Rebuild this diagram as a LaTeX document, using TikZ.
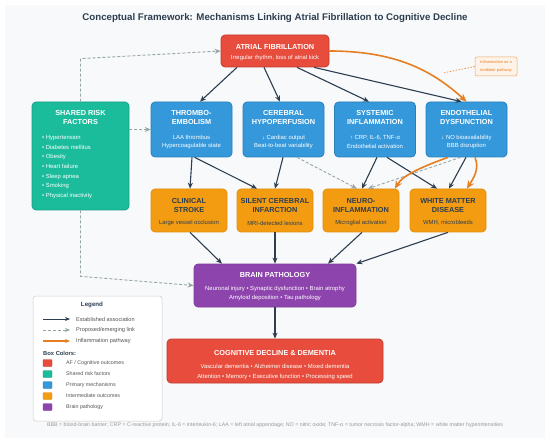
\documentclass[tikz,border=0pt]{standalone}
\usepackage{fontspec}
\setmainfont{Liberation Sans}
\usetikzlibrary{arrows.meta}
\definecolor{navy}{HTML}{2C3E50}
\definecolor{arrgray}{HTML}{95A5A6}
\definecolor{orng}{HTML}{E67E22}
\definecolor{afred}{HTML}{E74C3C}
\definecolor{afredd}{HTML}{C0392B}
\definecolor{mblue}{HTML}{3498DB}
\definecolor{mblued}{HTML}{2980B9}
\definecolor{rgreen}{HTML}{1ABC9C}
\definecolor{rgreend}{HTML}{16A085}
\definecolor{morange}{HTML}{F39C12}
\definecolor{moranged}{HTML}{E08E0B}
\definecolor{mpurple}{HTML}{8E44AD}
\definecolor{mpurpled}{HTML}{7D3C98}
\definecolor{bgc}{HTML}{F8F9FA}
\definecolor{lgray}{HTML}{CCCCCC}
\definecolor{ltext}{HTML}{555555}
\definecolor{fgray}{HTML}{999999}
\definecolor{callfill}{HTML}{FDF3E8}
\definecolor{callborder}{HTML}{F0A860}
\begin{document}
\begin{tikzpicture}[x=1pt,y=-1pt,
  box/.style={draw, rounded corners=4pt, line width=0.7pt, inner sep=0pt},
  ttl/.style={font=\bfseries\fontsize{7.3}{9}\selectfont, align=center, inner sep=0pt},
  sub/.style={font=\fontsize{5.9}{8.5}\selectfont, align=center, inner sep=0pt},
  subb/.style={font=\fontsize{5.9}{9.5}\selectfont, align=center, inner sep=0pt},
  est/.style={navy, line width=1.1pt, -{Stealth[length=6pt,width=5pt]}},
  prop/.style={arrgray, line width=0.9pt, dash pattern=on 3pt off 2pt, -{Stealth[length=6pt,width=5pt]}},
  infl/.style={orng, line width=1.6pt, -{Stealth[length=8pt,width=7pt]}},
  legtxt/.style={font=\fontsize{5.6}{6}\selectfont, text=ltext, anchor=west, inner sep=0pt},
  swtxt/.style={font=\fontsize{5.3}{6}\selectfont, text=ltext, anchor=west, inner sep=0pt},
  swatch/.style={minimum width=9pt, minimum height=7pt, inner sep=0pt, rounded corners=1pt, line width=0.4pt}
]
\useasboundingbox (0,0) rectangle (550,444);
\fill[white] (0,0) rectangle (550,444);
\fill[bgc] (5,5) rectangle (545,438);

% title
\node[font=\bfseries\fontsize{9.7}{11}\selectfont, text=navy, inner sep=0pt] (title) at (275,18) {Conceptual Framework: Mechanisms Linking Atrial Fibrillation to Cognitive Decline};

% AF
\node[box, fill=afred, draw=afredd, minimum width=108pt, minimum height=32pt] (af) at (275,51) {};
\node[ttl, text=white] (afT) at (275,46.5) {ATRIAL FIBRILLATION};
\node[sub, text=white] (afS) at (275,57.5) {Irregular rhythm, loss of atrial kick};

% callout
\node[draw=callborder, fill=callfill, rounded corners=2pt, minimum width=42pt, minimum height=19pt, line width=0.5pt, align=center, font=\fontsize{4}{7.5}\selectfont, text=orng, inner sep=0pt] (call) at (496,66.5) {Inflammation as a\\mediator pathway};
\coordinate (callend) at (443,73);
\draw[orng!80, line width=0.8pt, dash pattern=on 1.5pt off 1.5pt] (call.west) -- (callend);

% primary mechanisms
\node[box, fill=mblue, draw=mblued, minimum width=81pt, minimum height=55pt] (thr) at (191.5,129.5) {};
\node[ttl, text=white] (thrT) at (191.5,117.5) {THROMBO-\\EMBOLISM};
\node[sub, text=white] (thrS) at (191.5,142) {LAA thrombus\\Hypercoagulable state};

\node[box, fill=mblue, draw=mblued, minimum width=81pt, minimum height=55pt] (hyp) at (283.5,129.5) {};
\node[ttl, text=white] (hypT) at (283.5,117.5) {CEREBRAL\\HYPOPERFUSION};
\node[sub, text=white] (hypS) at (283.5,142) {↓ Cardiac output\\Beat-to-beat variability};

\node[box, fill=mblue, draw=mblued, minimum width=81pt, minimum height=55pt] (inf) at (375,129.5) {};
\node[ttl, text=white] (infT) at (375,117.5) {SYSTEMIC\\INFLAMMATION};
\node[sub, text=white] (infS) at (375,142) {↑ CRP, IL-6, TNF-α\\Endothelial activation};

\node[box, fill=mblue, draw=mblued, minimum width=81pt, minimum height=55pt] (endo) at (466.5,129.5) {};
\node[ttl, text=white] (endoT) at (466.5,117.5) {ENDOTHELIAL\\DYSFUNCTION};
\node[sub, text=white] (endoS) at (466.5,142) {↓ NO bioavailability\\BBB disruption};

% shared risk factors
\node[box, fill=rgreen, draw=rgreend, minimum width=97pt, minimum height=108pt] (risk) at (80.5,156) {};
\node[ttl, text=white] (riskT) at (80.5,117.5) {SHARED RISK\\FACTORS};
\node[inner sep=0pt, align=left, anchor=west, text=white, font=\fontsize{5.9}{9.7}\selectfont] (riskL) at (42,167) {• Hypertension\\• Diabetes mellitus\\• Obesity\\• Heart failure\\• Sleep apnea\\• Smoking\\• Physical inactivity};

% intermediate outcomes
\node[box, fill=morange, draw=moranged, minimum width=76pt, minimum height=43pt] (stroke) at (189,210.5) {};
\node[ttl, text=navy] (strokeT) at (189,205.5) {CLINICAL\\STROKE};
\node[sub, text=navy] (strokeS) at (189,223) {Large vessel occlusion};

\node[box, fill=morange, draw=moranged, minimum width=76pt, minimum height=43pt] (sci) at (275,210.5) {};
\node[ttl, text=navy] (sciT) at (275,205.5) {SILENT CEREBRAL\\INFARCTION};
\node[sub, text=navy] (sciS) at (275,223) {MRI-detected lesions};

\node[box, fill=morange, draw=moranged, minimum width=76pt, minimum height=43pt] (neuro) at (361,210.5) {};
\node[ttl, text=navy] (neuroT) at (361,205.5) {NEURO-\\INFLAMMATION};
\node[sub, text=navy] (neuroS) at (361,223) {Microglial activation};

\node[box, fill=morange, draw=moranged, minimum width=76pt, minimum height=43pt] (wmd) at (448,210.5) {};
\node[ttl, text=navy] (wmdT) at (448,205.5) {WHITE MATTER\\DISEASE};
\node[sub, text=navy] (wmdS) at (448,223) {WMH, microbleeds};

% brain pathology
\node[box, fill=mpurple, draw=mpurpled, minimum width=162pt, minimum height=43pt] (brain) at (275,285.5) {};
\node[ttl, text=white] (brainT) at (275,275) {BRAIN PATHOLOGY};
\node[subb, text=white, font=\fontsize{5.9}{9}\selectfont] (brainS) at (275,293.5) {Neuronal injury • Synaptic dysfunction • Brain atrophy\\Amyloid deposition • Tau pathology};

% cognitive decline
\node[box, fill=afred, draw=afredd, minimum width=216pt, minimum height=44pt] (cog) at (275,361) {};
\node[ttl, text=white] (cogT) at (275,353) {COGNITIVE DECLINE \& DEMENTIA};
\node[subb, text=white, font=\fontsize{5.9}{10}\selectfont] (cogS) at (275,372) {Vascular dementia • Alzheimer disease • Mixed dementia\\Attention • Memory • Executive function • Processing speed};

% connectors from AF
\draw[est] ([xshift=-38pt]af.south) -- ([xshift=8.5pt]thr.north);
\draw[est] ([xshift=-11pt]af.south) -- ([xshift=-3.5pt]hyp.north);
\draw[est] ([xshift=22pt]af.south) -- ([xshift=-6pt]inf.north);
\draw[est] ([xshift=39pt]af.south) -- ([xshift=-5pt]endo.north);
\draw[infl] (af.east) .. controls +(65,0) and +(-35,-32) .. (endo.north);

% shared risk factors
\draw[prop] (risk.north) -- ++(0,-43) -- (af.west);
\draw[prop] (risk.east |- thr.west) -- (thr.west);
\draw[prop] (risk.south) -- ++(0,66) -- (brain.west);

% mechanisms to outcomes
\draw[est] ([xshift=0.5pt]thr.south) -- ([xshift=1pt]stroke.north);
\draw[est] ([xshift=3pt]thr.south) -- ([xshift=-18pt]sci.north);
\draw[est] ([xshift=-0.5pt]hyp.south) -- (sci.north);
\draw[prop] ([xshift=13.5pt]hyp.south) -- ([xshift=-4pt]neuro.north);
\draw[prop] ([xshift=-6pt]endo.south) -- ([xshift=7pt]neuro.north);
\draw[est] ([xshift=2pt]inf.south) -- ([xshift=1pt]neuro.north);
\draw[est] ([xshift=12pt]inf.south) -- ([xshift=-11pt]wmd.north);
\draw[infl] ([xshift=-18.5pt]endo.south) .. controls +(-22,8) and +(8,-14) .. ([xshift=34pt]neuro.north);
\draw[est] ([xshift=-0.5pt]endo.south) -- ([xshift=1pt]wmd.north);
\draw[infl] ([xshift=8.5pt]endo.south) .. controls +(5,12) and +(6,-10) .. ([xshift=19pt]wmd.north);

% outcomes to brain
\draw[est] ([xshift=1pt]stroke.south) -- ([xshift=-53pt]brain.north);
\draw[est] (sci.south) -- (brain.north);
\draw[est] ([xshift=1pt]neuro.south) -- ([xshift=53pt]brain.north);
\draw[est] (wmd.south) -- (brain.north east);
\draw[est] (brain.south) -- (cog.north);

% legend
\node[draw=lgray, fill=white, rounded corners=3pt, minimum width=129pt, minimum height=125pt, line width=0.5pt, inner sep=0pt] (leg) at (97.5,358.5) {};
\node[font=\bfseries\fontsize{6.2}{7}\selectfont, text=navy, inner sep=0pt] (legT) at (92,305) {Legend};
\coordinate (l1a) at (43,319); \coordinate (l1b) at (70,319);
\coordinate (l2a) at (43,330); \coordinate (l2b) at (70,330);
\coordinate (l3a) at (43,341); \coordinate (l3b) at (70,341);
\draw[navy, line width=1pt, -{Stealth[length=5pt,width=4pt]}] (l1a) -- (l1b);
\draw[arrgray, line width=0.8pt, dash pattern=on 3pt off 2pt, -{Stealth[length=5pt,width=4pt]}] (l2a) -- (l2b);
\draw[orng, line width=1.3pt, -{Stealth[length=5pt,width=4pt]}] (l3a) -- (l3b);
\node[legtxt] (lt1) at (76,319) {Established association};
\node[legtxt] (lt2) at (76,330) {Proposed/emerging link};
\node[legtxt] (lt3) at (76,341) {Inflammation pathway};
\node[font=\bfseries\fontsize{5.8}{7}\selectfont, text=navy, anchor=west, inner sep=0pt] (bc) at (43,353) {Box Colors:};
\node[swatch, fill=afred, draw=afredd] (sw1) at (47.5,363) {};
\node[swatch, fill=rgreen, draw=rgreend] (sw2) at (47.5,374) {};
\node[swatch, fill=mblue, draw=mblued] (sw3) at (47.5,385) {};
\node[swatch, fill=morange, draw=moranged] (sw4) at (47.5,396) {};
\node[swatch, fill=mpurple, draw=mpurpled] (sw5) at (47.5,407) {};
\node[swtxt] (st1) at (66,363) {AF / Cognitive outcomes};
\node[swtxt] (st2) at (66,374) {Shared risk factors};
\node[swtxt] (st3) at (66,385) {Primary mechanisms};
\node[swtxt] (st4) at (66,396) {Intermediate outcomes};
\node[swtxt] (st5) at (66,407) {Brain pathology};

% footnote
\node[font=\fontsize{5.3}{6}\selectfont, text=fgray, inner sep=0pt] (foot) at (275,425) {BBB = blood-brain barrier; CRP = C-reactive protein; IL-6 = interleukin-6; LAA = left atrial appendage; NO = nitric oxide; TNF-α = tumor necrosis factor-alpha; WMH = white matter hyperintensities};
\end{tikzpicture}
\end{document}
